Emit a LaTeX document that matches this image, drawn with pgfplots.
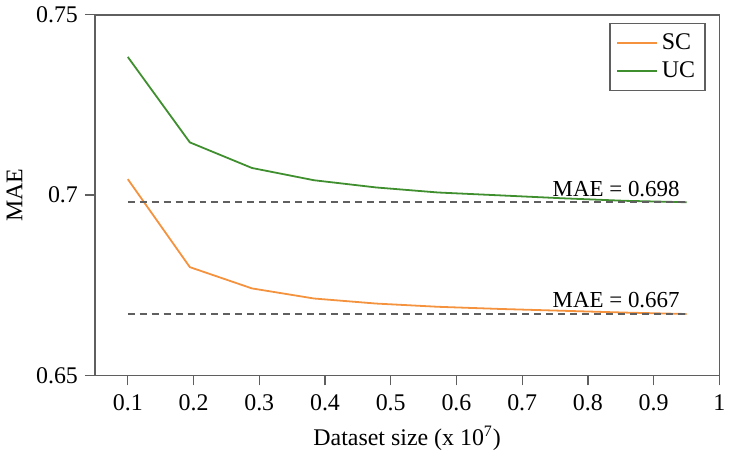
\documentclass[border=0pt]{standalone}
\usepackage{pgfplots}
\pgfplotsset{compat=1.18}
\usepackage{fontspec}
\setmainfont{Liberation Serif}
\definecolor{scorange}{HTML}{F5923E}
\definecolor{ucgreen}{HTML}{3F8F2F}
\definecolor{axgray}{RGB}{95,95,95}
\begin{document}
\begin{tikzpicture}
\begin{axis}[
  scale only axis,
  width=313.5pt, height=181pt,
  xmin=0.05, xmax=1, ymin=0.65, ymax=0.75,
  xtick={0.1,0.2,0.3,0.4,0.5,0.6,0.7,0.8,0.9,1},
  xticklabels={0.1,0.2,0.3,0.4,0.5,0.6,0.7,0.8,0.9,1},
  ytick={0.65,0.7,0.75},
  yticklabels={0.65,0.7,0.75},
  tick align=outside, tick pos=left,
  major tick length=5pt,
  axis line style={axgray, line width=0.8pt},
  tick style={axgray, line width=0.6pt},
  xlabel={Dataset size (x 10\textsuperscript{7})},
  ylabel={MAE},
  xticklabel style={yshift=-1pt},
  xlabel style={yshift=-1pt},
  every tick label/.append style={font=\fontsize{12}{14}\selectfont},
  label style={font=\fontsize{12}{14}\selectfont},
  legend style={at={(0.978,0.978)}, anchor=north east, draw=axgray, line width=0.6pt,
    font=\fontsize{12}{14}\selectfont, row sep=1pt, inner sep=3pt},
  legend cell align=left,
  legend image code/.code={\draw[#1, line width=1pt] (0pt,0pt) -- (20pt,0pt);},
]
\addplot[scorange, line width=0.9pt] coordinates {
(0.1,0.7044) (0.1944,0.6800) (0.2889,0.6741) (0.3833,0.6713) (0.4778,0.6699)
(0.5722,0.6690) (0.6667,0.6684) (0.7611,0.6679) (0.8556,0.6674) (0.95,0.6670)};
\addlegendentry{SC}
\addplot[ucgreen, line width=0.9pt] coordinates {
(0.1,0.7383) (0.1944,0.7146) (0.2889,0.7075) (0.3833,0.7041) (0.4778,0.7021)
(0.5722,0.7007) (0.6667,0.6999) (0.7611,0.6991) (0.8556,0.6984) (0.95,0.6980)};
\addlegendentry{UC}
\addplot[axgray, line width=0.75pt, dash pattern=on 3.5pt off 2.5pt, forget plot] coordinates {(0.1,0.698) (0.95,0.698)};
\addplot[axgray, line width=0.75pt, dash pattern=on 3.5pt off 2.5pt, forget plot] coordinates {(0.1,0.667) (0.95,0.667)};
\node[anchor=south east, inner sep=0pt, font=\fontsize{11.5}{14}\selectfont] at (axis cs:0.94,0.6995) {MAE = 0.698};
\node[anchor=south east, inner sep=0pt, font=\fontsize{11.5}{14}\selectfont] at (axis cs:0.94,0.6685) {MAE = 0.667};
\end{axis}
\end{tikzpicture}
\end{document}
